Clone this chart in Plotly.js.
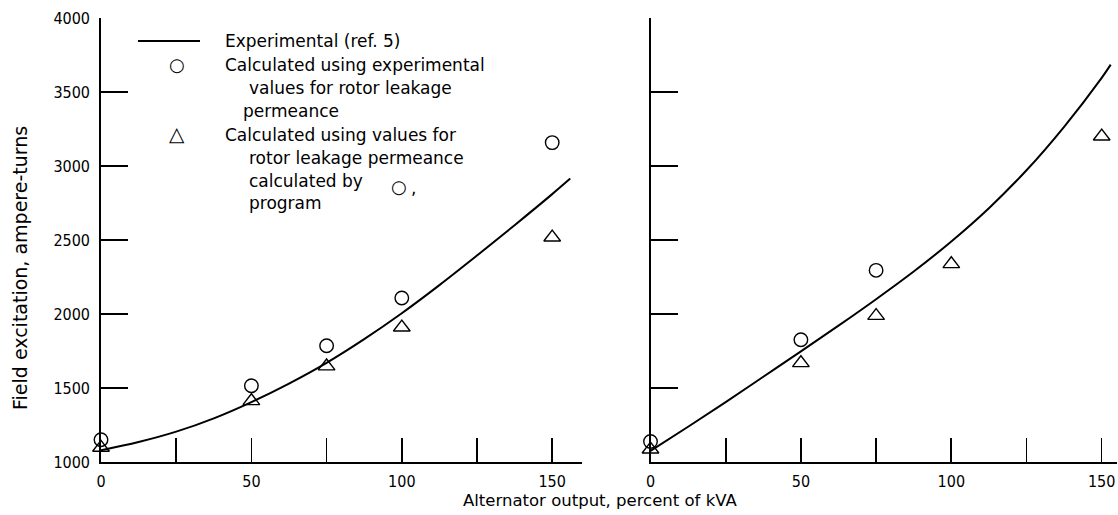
<!DOCTYPE html>
<html>
<head>
<meta charset="utf-8">
<script src="https://cdn.plot.ly/plotly-3.0.1.min.js"></script>
<style>html,body{margin:0;padding:0;background:#fff;}#chart{width:1118px;height:515px;}</style>
</head>
<body>
<div id="chart"></div>
<script>
// ---- Data ----
const loadPct = [0, 50, 75, 100, 150];                 // percent of kVA
const leftCircleY = [1150, 1515, 1785, 2108, 3158];    // calculated, experimental permeance
const leftTriangleY = [1097, 1412, 1647, 1910, 2518];  // calculated, program permeance
const leftCurveX = [0, 12.5, 25, 37.5, 50, 62.5, 75, 87.5, 100, 112.5, 125, 137.5, 150, 156];
const leftCurveY = [1080, 1135, 1205, 1295, 1405, 1530, 1670, 1830, 2005, 2195, 2395, 2600, 2810, 2915];

const rightCircleX = [0, 50, 75];
const rightCircleY = [1139, 1826, 2295];
const rightTriangleX = [0, 50, 75, 100, 150];
const rightTriangleY = [1085, 1669, 1988, 2338, 3200];
const rightCurveX = [0, 12.5, 25, 37.5, 50, 62.5, 75, 87.5, 100, 112.5, 125, 137.5, 150, 153];
const rightCurveY = [1075, 1238, 1405, 1576, 1747, 1921, 2100, 2287, 2490, 2715, 2971, 3265, 3596, 3685];

const xTickVals = [0, 25, 50, 75, 100, 125, 150];
const xTickText = ['0', '', '50', '', '100', '', '150'];
const yTickVals = [1000, 1500, 2000, 2500, 3000, 3500, 4000];
const yTickText = ['1000', '1500', '2000', '2500', '3000', '3500', '4000'];

const legendExp = 'Experimental (ref. 5)';
const legendCircle = ['Calculated using experimental', 'values for rotor leakage', 'permeance'];
const legendTriangle = ['Calculated using values for', 'rotor leakage permeance', 'calculated by', 'program'];
const xTitle = 'Alternator output, percent of kVA';
const yTitle = 'Field excitation, ampere-turns';

// ---- Styling ----
const NUMFONT = "'DejaVu Sans Condensed', 'Liberation Sans Narrow', 'Roboto Condensed', Roboto, sans-serif";
const TXTFONT = "'DejaVu Sans', Verdana, sans-serif";
const W = 1118, H = 515;
const M = {l: 101, r: 1, t: 18, b: 53};
const PW = W - M.l - M.r, PH = H - M.t - M.b;
const px = x => (x - M.l) / PW;
const py = y => (H - M.b - y) / PH;

const curveLine = {color: '#000', width: 2, shape: 'spline', smoothing: 1};
const circleMarker = {symbol: 'circle-open', size: 13.5, color: '#000', line: {width: 1.4, color: '#000'}};
const triMarker = {symbol: 'triangle-up-open', size: 14.5, color: '#000', line: {width: 1.4, color: '#000'}};

const traces = [
  {x: leftCurveX, y: leftCurveY, mode: 'lines', line: curveLine, xaxis: 'x', yaxis: 'y', hoverinfo: 'skip'},
  {x: loadPct, y: leftCircleY, mode: 'markers', marker: circleMarker, xaxis: 'x', yaxis: 'y', cliponaxis: false},
  {x: loadPct, y: leftTriangleY, mode: 'markers', marker: triMarker, xaxis: 'x', yaxis: 'y', cliponaxis: false},
  {x: rightCurveX, y: rightCurveY, mode: 'lines', line: curveLine, xaxis: 'x2', yaxis: 'y2', hoverinfo: 'skip'},
  {x: rightCircleX, y: rightCircleY, mode: 'markers', marker: circleMarker, xaxis: 'x2', yaxis: 'y2', cliponaxis: false},
  {x: rightTriangleX, y: rightTriangleY, mode: 'markers', marker: triMarker, xaxis: 'x2', yaxis: 'y2', cliponaxis: false}
];

const xAxisBase = {
  tickmode: 'array', tickvals: xTickVals, ticktext: xTickText,
  ticks: 'inside', ticklen: 24, tickwidth: 1.6, tickcolor: '#000',
  showline: true, linecolor: '#000', linewidth: 1.5,
  showgrid: false, zeroline: false, ticklabelstandoff: 4,
  tickfont: {family: NUMFONT, size: 16, color: '#000'}, fixedrange: true
};
const yAxisBase = {
  range: [1000, 4000], tickmode: 'array', tickvals: yTickVals, ticktext: yTickText,
  ticks: 'inside', ticklen: 27, tickwidth: 1.6, tickcolor: '#000',
  showline: true, linecolor: '#000', linewidth: 1.8,
  showgrid: false, zeroline: false, ticklabelstandoff: 6,
  tickfont: {family: NUMFONT, size: 16, color: '#000'}, fixedrange: true
};

const leftRight = 582.3, rightLeft = 650.5, pxPerUnit = 3.008;

const ann = (text, x, y, opts = {}) => Object.assign({
  text: text, x: px(x), y: py(y), xref: 'paper', yref: 'paper',
  xanchor: 'left', yanchor: 'middle', showarrow: false,
  font: {family: TXTFONT, size: 17, color: '#000'}
}, opts);
const sym = (text, x, y, size) => ann(text, x, y, {xanchor: 'center', font: {family: 'DejaVu Sans', size: size, color: '#000'}});

const annotations = [
  ann(legendExp, 223, 41),
  sym('○', 177, 64, 18),
  ann(legendCircle[0], 223, 65),
  ann(legendCircle[1], 247, 88),
  ann(legendCircle[2], 241, 111),
  sym('△', 177, 134, 20),
  ann(legendTriangle[0], 223, 135),
  ann(legendTriangle[1], 247, 158),
  ann(legendTriangle[2], 247, 181),
  sym('○', 399, 186, 18),
  ann(',', 409, 188),
  ann(legendTriangle[3], 247, 203),
  ann(xTitle, 600, 500, {xanchor: 'center', font: {family: TXTFONT, size: 16.5, color: '#000'}}),
  ann(yTitle, 20, 268, {xanchor: 'center', textangle: -90, font: {family: TXTFONT, size: 19, color: '#000'}})
];

const layout = {
  width: W, height: H, margin: M,
  paper_bgcolor: '#fff', plot_bgcolor: '#fff', showlegend: false,
  xaxis: Object.assign({}, xAxisBase, {domain: [0, px(leftRight)], range: [0, (leftRight - M.l) / pxPerUnit], anchor: 'y'}),
  yaxis: Object.assign({}, yAxisBase, {anchor: 'x', domain: [0, 1]}),
  xaxis2: Object.assign({}, xAxisBase, {domain: [px(rightLeft), 1], range: [0, (W - M.r - rightLeft) / pxPerUnit], anchor: 'y2'}),
  yaxis2: Object.assign({}, yAxisBase, {anchor: 'x2', domain: [0, 1], showticklabels: false}),
  shapes: [
    {type: 'line', xref: 'paper', yref: 'paper', x0: px(138), x1: px(200), y0: py(41), y1: py(41), line: {color: '#000', width: 2}}
  ],
  annotations: annotations
};

Plotly.newPlot('chart', traces, layout, {displayModeBar: false, staticPlot: true});
</script>
</body>
</html>
